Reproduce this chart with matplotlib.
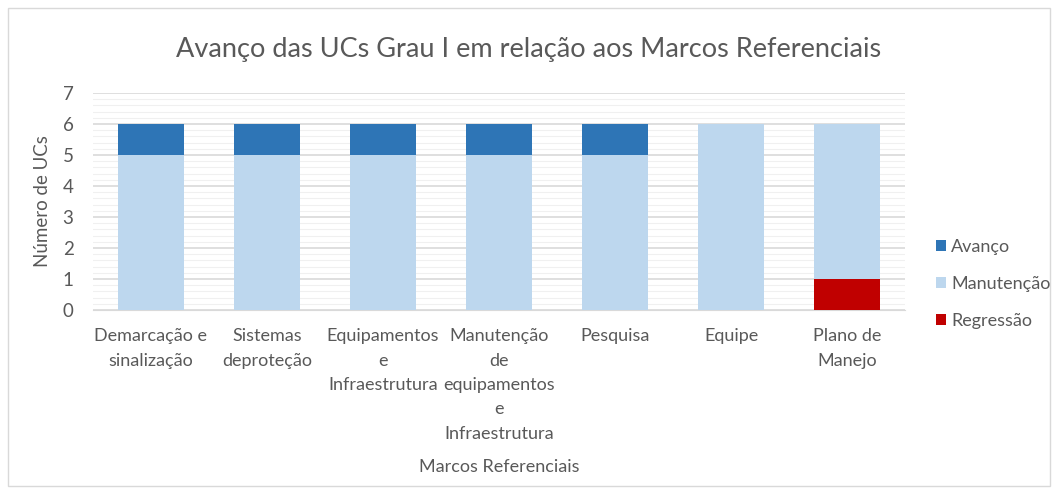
import matplotlib
matplotlib.use("Agg")
import matplotlib.pyplot as plt
from matplotlib.patches import Rectangle
from matplotlib.ticker import MultipleLocator

categories = ["Demarcação e\nsinalização", "Sistemas\ndeproteção", "Equipamentos\ne\nInfraestrutura",
              "Manutenção\nde\nequipamentos\ne\nInfraestrutura", "Pesquisa", "Equipe", "Plano de\nManejo"]
regressao = [0, 0, 0, 0, 0, 0, 1]
manutencao = [5, 5, 5, 5, 5, 6, 5]
avanco = [1, 1, 1, 1, 1, 0, 0]

c_av = "#2E75B6"
c_man = "#BDD7EE"
c_reg = "#C00000"
txt = "#595959"

plt.rcParams['font.family'] = ['Lato', 'DejaVu Sans']

fig = plt.figure(figsize=(10.58, 4.94), dpi=100)
fig.patches.append(Rectangle((8/1058, 8/494), 1042/1058, 478/494, transform=fig.transFigure,
                             fill=False, edgecolor="#D9D9D9", linewidth=1))
ax = fig.add_axes([93/1058, 1 - 310/494, 812/1058, 217/494])

x = list(range(len(categories)))
w = 0.57
ax.bar(x, regressao, w, color=c_reg, label="Regressão", zorder=3)
ax.bar(x, manutencao, w, bottom=regressao, color=c_man, label="Manutenção", zorder=3)
bot2 = [a + b for a, b in zip(regressao, manutencao)]
ax.bar(x, avanco, w, bottom=bot2, color=c_av, label="Avanço", zorder=3)

ax.set_xlim(-0.5, len(categories) - 0.5)
ax.set_ylim(0, 7)
ax.yaxis.set_major_locator(MultipleLocator(1))
ax.yaxis.set_minor_locator(MultipleLocator(0.2))
ax.grid(axis="y", which="major", color="#D9D9D9", linewidth=1.2, zorder=0)
ax.grid(axis="y", which="minor", color="#F0F0F0", linewidth=0.8, zorder=0)
for s in ["top", "right", "left"]:
    ax.spines[s].set_visible(False)
ax.spines["bottom"].set_color("#D9D9D9")
ax.tick_params(axis="both", which="both", length=0, colors=txt)
ax.tick_params(axis="y", pad=14, labelsize=13.5)
ax.set_xticks(x)
ax.set_xticklabels(categories, fontsize=13, color=txt, linespacing=1.65)
ax.tick_params(axis="x", pad=13)

ax.set_ylabel("Número de UCs", fontsize=13.5, color=txt, labelpad=8)
ax.set_xlabel("Marcos Referenciais", fontsize=13, color=txt, labelpad=12)
fig.text(0.5, 1 - 49/494, "Avanço das UCs Grau I em relação aos Marcos Referenciais",
         ha="center", va="center", fontsize=19.5, color=txt)

h, l = ax.get_legend_handles_labels()
leg = fig.legend(h[::-1], l[::-1], loc="center left", bbox_to_anchor=(936/1058, 1 - 284/494),
                 frameon=False, fontsize=13, labelcolor=txt, handlelength=0.55, handleheight=0.55,
                 handletextpad=0.3, labelspacing=1.15, borderaxespad=0, borderpad=0)

fig.savefig("out.png", dpi=100)
